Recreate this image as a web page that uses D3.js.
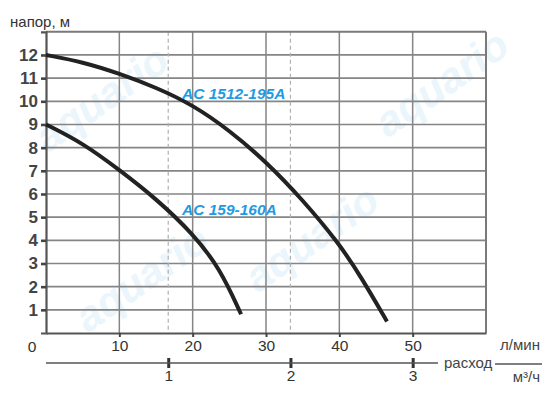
<!DOCTYPE html>
<html>
<head>
<meta charset="utf-8">
<script src="https://cdn.jsdelivr.net/npm/d3@7"></script>
<style>
  html,body{margin:0;padding:0;background:#fff;}
  svg{display:block;font-family:"Liberation Sans",Arial,sans-serif;}
</style>
</head>
<body>
<svg id="chart" width="550" height="400"></svg>
<script>
/* ===== Data ===== */
const yTicks = [1,2,3,4,5,6,7,8,9,10,11,12];
const xTicks = [0,10,20,30,40,50];          // л/мин
const m3Ticks = [1,2,3];                     // м³/ч
const m3ToLpm = 1000/60;

// AC 1512-195A
const pump1Name = 'AC 1512-195A';
const pump1Q = [0, 5, 10, 15, 20, 25, 30, 35, 40, 43, 46.5];
const pump1H = [12, 11.7, 11.2, 10.6, 9.85, 8.75, 7.4, 5.75, 3.85, 2.4, 0.5];
// AC 159-160A
const pump2Name = 'AC 159-160A';
const pump2Q = [0, 5, 10, 15, 20, 23.7, 26.6];
const pump2H = [9, 8.2, 7.04, 5.8, 4.3, 2.8, 0.81];

/* ===== Scales ===== */
const svg = d3.select('#chart');
const x = d3.scaleLinear().domain([0,60]).range([46,486]);
const y = d3.scaleLinear().domain([0,13]).range([333,31.8]);

// faint watermark
const wm = svg.append('g').attr('fill','#eaf5fc').attr('font-weight','bold').attr('font-style','italic').attr('font-size',42);
[[450,95],[320,250],[150,290],[110,110]].forEach(([tx,ty])=>{
  wm.append('text').attr('transform',`translate(${tx},${ty}) rotate(-35)`).attr('text-anchor','middle').text('aquario');
});

const g = svg.append('g');

// horizontal grid
g.selectAll('.hg').data(yTicks).enter().append('line')
  .attr('x1',x(0)).attr('x2',x(60)).attr('y1',d=>y(d)).attr('y2',d=>y(d))
  .attr('stroke','#858585').attr('stroke-width',1.7);

// vertical grid (л/мин)
g.selectAll('.vg').data(xTicks.slice(1)).enter().append('line')
  .attr('x1',d=>x(d)).attr('x2',d=>x(d)).attr('y1',y(13)).attr('y2',y(0))
  .attr('stroke','#858585').attr('stroke-width',1.5);

// dashed verticals (м³/ч)
g.selectAll('.vd').data(m3Ticks.filter(d=>d*m3ToLpm<49)).enter().append('line')
  .attr('x1',d=>x(d*m3ToLpm)).attr('x2',d=>x(d*m3ToLpm)).attr('y1',y(13)).attr('y2',y(0))
  .attr('stroke','#b0b0b0').attr('stroke-width',1.2).attr('stroke-dasharray','4,3');

// frame
g.append('line').attr('x1',x(0)).attr('x2',x(60)).attr('y1',y(13)).attr('y2',y(13)).attr('stroke','#7a7a7a').attr('stroke-width',2);
g.append('line').attr('x1',x(60)).attr('x2',x(60)).attr('y1',y(13)).attr('y2',y(0)).attr('stroke','#7a7a7a').attr('stroke-width',2);

// left axis
const yAxis = g.append('g').attr('transform',`translate(${x(0)},0)`)
  .call(d3.axisLeft(y).tickValues(yTicks).tickSize(5).tickPadding(3));
yAxis.select('.domain').attr('stroke','#555').attr('stroke-width',2.2);
yAxis.selectAll('.tick line').attr('stroke','#444').attr('stroke-width',2.6);
yAxis.selectAll('text').attr('fill','#444').attr('font-size',17).attr('font-weight','bold')
  .attr('font-family','"Liberation Sans Narrow","Liberation Sans",Arial,sans-serif');

// bottom axis (л/мин)
const xAxis = g.append('g').attr('transform',`translate(0,${y(0)})`)
  .call(d3.axisBottom(x).tickValues(xTicks.slice(1)).tickSize(4).tickPadding(3).tickSizeOuter(0));
xAxis.select('.domain').attr('stroke','#555').attr('stroke-width',2.2);
xAxis.selectAll('.tick line').attr('stroke','#444').attr('stroke-width',2);
xAxis.selectAll('text').attr('fill','#333').attr('font-size',15.5);
g.append('text').attr('x',32).attr('y',352).attr('text-anchor','middle').attr('fill','#333').attr('font-size',15.5).text(xTicks[0]);

// second axis (м³/ч)
const m3 = d3.scaleLinear().domain([0,60/m3ToLpm]).range(x.range());
const m3Axis = g.append('g').attr('transform','translate(0,363)')
  .call(d3.axisBottom(m3).tickValues(m3Ticks).tickSize(0).tickPadding(7).tickFormat(d3.format('d')));
m3Axis.select('.domain').remove();
g.append('line').attr('x1',x(0)).attr('x2',438).attr('y1',363).attr('y2',363).attr('stroke','#555').attr('stroke-width',1.4);
m3Axis.selectAll('.tick').append('line').attr('y1',-5).attr('y2',5).attr('stroke','#333').attr('stroke-width',3);
m3Axis.selectAll('text').attr('fill','#333').attr('font-size',15.5);

// axis captions
g.append('text').attr('x',444).attr('y',368).attr('fill','#444').attr('font-size',15).text('расход');
g.append('line').attr('x1',495).attr('x2',542).attr('y1',364).attr('y2',364).attr('stroke','#555').attr('stroke-width',1.4);
g.append('text').attr('x',540).attr('y',350).attr('text-anchor','end').attr('fill','#444').attr('font-size',15).text('л/мин');
g.append('text').attr('x',540).attr('y',382).attr('text-anchor','end').attr('fill','#444').attr('font-size',15).text('м³/ч');
g.append('text').attr('x',10).attr('y',27).attr('fill','#333').attr('font-size',15).text('напор, м');

// curves
const line = d3.line().x(d=>x(d[0])).y(d=>y(d[1])).curve(d3.curveBasis);
[[pump1Q,pump1H],[pump2Q,pump2H]].forEach(([q,h])=>{
  g.append('path').attr('d',line(q.map((v,i)=>[v,h[i]])))
    .attr('fill','none').attr('stroke','#222').attr('stroke-width',4);
});

// curve labels
const lbl = g.append('g').attr('fill','#1d9be3').attr('font-weight','bold').attr('font-style','italic').attr('font-size',15.5);
lbl.append('text').attr('x',182).attr('y',99).text(pump1Name);
lbl.append('text').attr('x',182).attr('y',215).text(pump2Name);
</script>
</body>
</html>
